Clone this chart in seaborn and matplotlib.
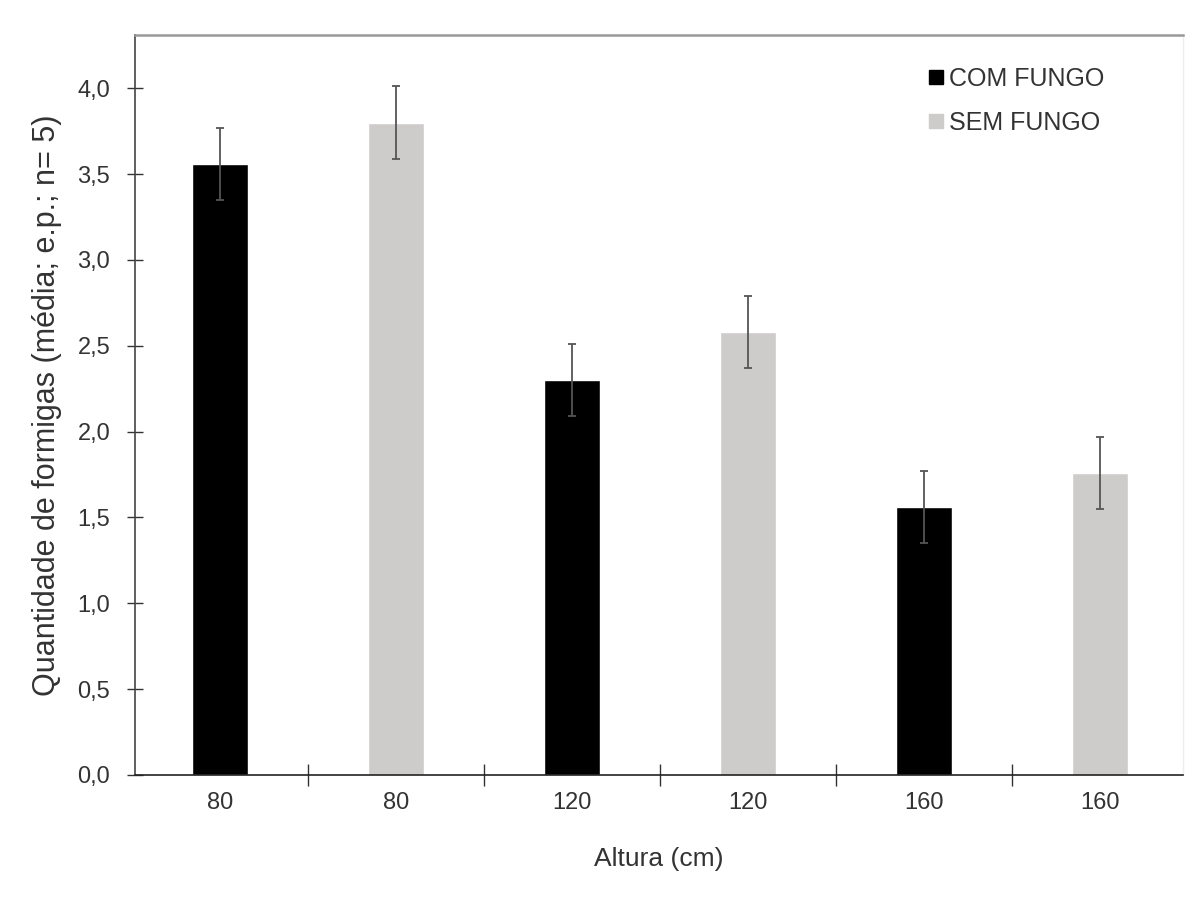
import matplotlib
matplotlib.use("Agg")
import matplotlib.pyplot as plt
import seaborn as sns
import numpy as np
import pandas as pd
from matplotlib.lines import Line2D
from matplotlib.ticker import FixedLocator, FuncFormatter

alturas = ["80", "80", "120", "120", "160", "160"]
tratamentos = ["COM FUNGO", "SEM FUNGO", "COM FUNGO", "SEM FUNGO", "COM FUNGO", "SEM FUNGO"]
medias = [3.56, 3.80, 2.30, 2.58, 1.56, 1.76]
erros = [0.21, 0.21, 0.21, 0.21, 0.21, 0.21]
yticks = [0.0, 0.5, 1.0, 1.5, 2.0, 2.5, 3.0, 3.5, 4.0]

sns.set_theme(style="white")
plt.rcParams['font.family'] = ['Liberation Sans', 'DejaVu Sans']

cores = {"COM FUNGO": "#000000", "SEM FUNGO": "#cecbcb"}
txt = "#333333"

df = pd.DataFrame({"pos": [str(i) for i in range(len(medias))],
                   "media": medias, "trat": tratamentos})

fig = plt.figure(figsize=(11.86, 9.06), dpi=100)
ax = fig.add_axes([0.114, 0.1446, 0.8835, 0.8168])

sns.barplot(data=df, x="pos", y="media", hue="trat", dodge=False,
            palette=cores, width=0.32, ax=ax, legend=False, saturation=1)
ax.errorbar(np.arange(len(medias)), medias, yerr=erros, fmt="none",
            ecolor="#555555", elinewidth=1.3, capsize=3, capthick=1.3, zorder=5)

ax.set_xlim(-0.48, 5.47)
ax.set_ylim(0, 4.31)
ax.set_yticks(yticks)
ax.yaxis.set_major_formatter(FuncFormatter(lambda v, p: f"{v:.1f}".replace(".", ",")))
ax.set_xticks(np.arange(len(alturas)))
ax.set_xticklabels(alturas)
ax.xaxis.set_minor_locator(FixedLocator(np.arange(0.5, len(alturas) - 0.5, 1)))
ax.tick_params(axis="x", which="major", length=0, pad=12, labelsize=17, labelcolor=txt)
ax.tick_params(axis="x", which="minor", length=16, width=1, direction="inout", color="#333333", bottom=True)
ax.tick_params(axis="y", which="major", length=12, width=1, direction="inout", color="#333333",
               left=True, pad=12, labelsize=17, labelcolor=txt)

ax.spines["left"].set_color("#444444")
ax.spines["left"].set_linewidth(1.2)
ax.spines["bottom"].set_color("#222222")
ax.spines["bottom"].set_linewidth(1.2)
ax.spines["top"].set_color("#999999")
ax.spines["top"].set_linewidth(1.8)
ax.spines["right"].set_color("#eeeeee")
ax.spines["right"].set_linewidth(1)

ax.set_xlabel("Altura (cm)", fontsize=19, color=txt, labelpad=24)
ax.set_ylabel("Quantidade de formigas (média; e.p.; n= 5)", fontsize=22, color=txt, labelpad=11)

handles = [Line2D([], [], marker="s", linestyle="none", markersize=10,
                  markerfacecolor=cores[k], markeredgecolor=cores[k], label=k)
           for k in ["COM FUNGO", "SEM FUNGO"]]
ax.legend(handles=handles, loc="upper left", bbox_to_anchor=(0.737, 0.987), frameon=False,
          fontsize=18, handlelength=0.5, handletextpad=0.25, labelspacing=0.8, labelcolor=txt)

fig.savefig("out.png", dpi=100)
